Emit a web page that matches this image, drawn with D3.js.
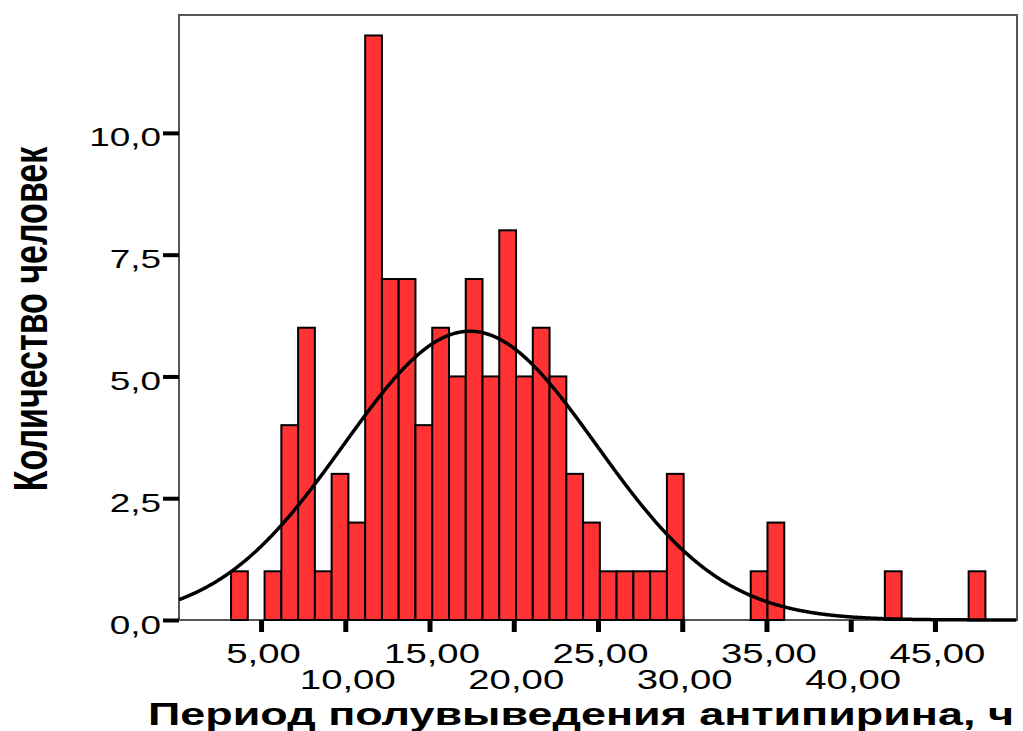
<!DOCTYPE html>
<html>
<head>
<meta charset="utf-8">
<script src="https://cdn.jsdelivr.net/npm/d3@7"></script>
<style>
  body { margin: 0; background: #fff; }
</style>
</head>
<body>
<script>
// histogram bins (left edge = binStart + i * binWidth)
const binStart = 3.22;
const binWidth = 0.995;
const counts = [1, 0, 1, 4, 6, 1, 3, 2, 12, 7,
                7, 4, 6, 5, 7, 5, 8, 5, 6, 5,
                3, 2, 1, 1, 1, 1, 3, 0, 0, 0,
                0, 1, 2, 0, 0, 0, 0, 0, 0, 1,
                0, 0, 0, 0, 1];
// normal curve
const fitMean = 17.4;
const fitSd = 7.5;

const yTicks = [0, 2.5, 5, 7.5, 10];
const xTicks = [5, 10, 15, 20, 25, 30, 35, 40, 45];
const yTitle = "Количество человек";
const xTitle = "Период полувыведения антипирина, ч";

const width = 1023, height = 731;
const plotL = 179, plotR = 1017, plotT = 15, plotB = 620;
const stretch = 1.42; // the original picture is squeezed wide

const loc = d3.formatLocale({decimal: ",", thousands: " ", grouping: [3], currency: ["", ""]});
const yFmt = loc.format(".1f");
const xFmt = loc.format(".2f");

const x = d3.scaleLinear().domain([0.13, 49.87]).range([plotL, plotR]);
const y = d3.scaleLinear().domain([0, 12.42]).range([plotB, plotT]);

const svg = d3.select("body").append("svg")
    .attr("width", width)
    .attr("height", height)
    .style("font-family", "'Liberation Sans', Arial, sans-serif");

// frame
svg.append("rect")
    .attr("x", plotL).attr("y", plotT)
    .attr("width", plotR - plotL).attr("height", plotB - plotT)
    .attr("fill", "none")
    .attr("stroke", "#555")
    .attr("stroke-width", 2);

// bars
const bins = counts.map((c, i) => ({x0: binStart + i * binWidth, x1: binStart + (i + 1) * binWidth, n: c}))
    .filter(d => d.n > 0);

svg.append("g").selectAll("rect")
  .data(bins)
  .enter().append("rect")
    .attr("x", d => x(d.x0))
    .attr("y", d => y(d.n))
    .attr("width", d => x(d.x1) - x(d.x0))
    .attr("height", d => y(0) - y(d.n))
    .attr("fill", "#ff3333")
    .attr("stroke", "#000")
    .attr("stroke-width", 2);

// fitted normal curve
const total = d3.sum(counts);
const pdf = v => Math.exp(-0.5 * ((v - fitMean) / fitSd) ** 2) / (fitSd * Math.sqrt(2 * Math.PI));
const pts = d3.range(x.domain()[0], x.domain()[1], 0.05).map(v => [v, total * binWidth * pdf(v)]);

svg.append("path")
    .datum(pts)
    .attr("fill", "none")
    .attr("stroke", "#000")
    .attr("stroke-width", 3.5)
    .attr("d", d3.line().x(d => x(d[0])).y(d => y(d[1])));

// y axis
const gy = svg.append("g")
    .attr("transform", `translate(${plotL},0)`)
    .call(d3.axisLeft(y).tickValues(yTicks).tickSize(16).tickFormat(yFmt));
gy.select(".domain").remove();
gy.selectAll(".tick line").attr("stroke", "#000").attr("stroke-width", 4);
gy.selectAll(".tick text")
    .attr("x", null).attr("dy", null)
    .attr("transform", `translate(-18,13) scale(${stretch},1)`)
    .attr("fill", "#000")
    .style("font-family", "'Liberation Sans', Arial, sans-serif")
    .style("font-size", "26px");

// x axis
const gx = svg.append("g")
    .attr("transform", `translate(0,${plotB})`)
    .call(d3.axisBottom(x).tickValues(xTicks).tickSize(12).tickFormat(xFmt));
gx.select(".domain").remove();
gx.selectAll(".tick line").attr("stroke", "#000").attr("stroke-width", 5);
gx.selectAll(".tick text")
    .attr("y", null).attr("dy", null)
    .attr("transform", (d, i) => `translate(2,${i % 2 ? 69 : 43}) scale(${stretch},1)`)
    .attr("fill", "#000")
    .style("font-family", "'Liberation Sans', Arial, sans-serif")
    .style("font-size", "27px");

// titles
svg.append("text")
    .attr("transform", `translate(47,319) scale(${stretch},1) rotate(-90)`)
    .attr("text-anchor", "middle")
    .style("font-size", "34px")
    .style("font-weight", "bold")
    .text(yTitle);

svg.append("text")
    .attr("x", 148)
    .attr("y", 725)
    .attr("textLength", 866)
    .attr("lengthAdjust", "spacingAndGlyphs")
    .style("font-size", "32px")
    .style("font-weight", "bold")
    .text(xTitle);
</script>
</body>
</html>
